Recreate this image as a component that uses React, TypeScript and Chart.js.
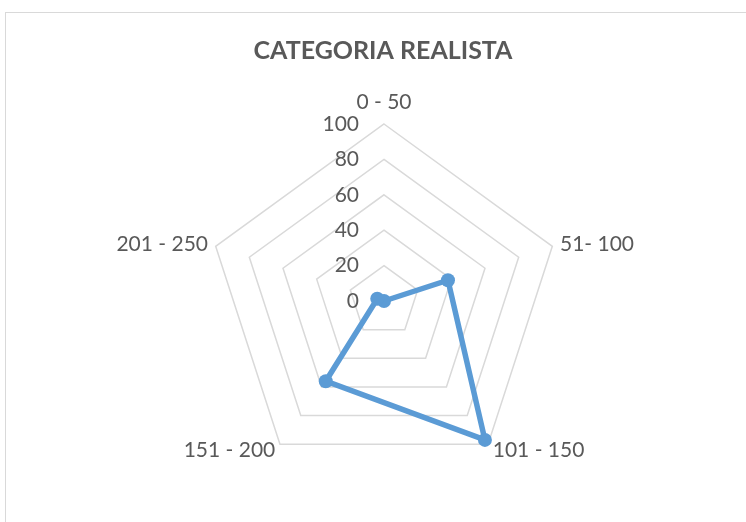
import React, { useEffect, useRef } from "react";
import { Chart, registerables } from "chart.js";

Chart.register(...registerables);

const TITLE = "CATEGORIA REALISTA";
const categories = ["0 - 50", "51- 100", "101 - 150", "151 - 200", "201 - 250"];
const values = [0, 38, 97, 56, 4];
const tickMin = 0;
const tickMax = 100;
const tickStep = 20;

const TEXT_COLOR = "#595959";
const LINE_COLOR = "#5b9bd5";

const labelPlugin = {
  id: "excelLabels",
  beforeDatasetsDraw(chart: any) {
    const ctx = chart.ctx;
    const scale = chart.scales.r;
    ctx.save();
    ctx.fillStyle = TEXT_COLOR;
    ctx.font = "bold 25px Lato";
    ctx.textAlign = "center";
    ctx.textBaseline = "middle";
    ctx.fillText(TITLE, 383, 51);

    ctx.font = "21px Lato";
    categories.forEach((lab, i) => {
      const isTop = i === 0;
      const p = scale.getPointPosition(i, scale.drawingArea + (isTop ? 22 : 8));
      const dx = p.x - scale.xCenter;
      ctx.textAlign = Math.abs(dx) < 2 ? "center" : dx > 0 ? "left" : "right";
      ctx.fillText(lab, p.x, p.y);
    });

    ctx.textAlign = "right";
    scale.ticks.forEach((t: any) => {
      const y = scale.yCenter - scale.getDistanceFromCenterForValue(t.value);
      ctx.fillText(String(t.value), scale.xCenter - 25, y);
    });
    ctx.restore();
  },
};

export default function App() {
  const ref = useRef<HTMLCanvasElement | null>(null);

  useEffect(() => {
    if (!ref.current) return;
    const chart = new Chart(ref.current, {
      type: "radar",
      data: {
        labels: categories,
        datasets: [
          {
            data: values,
            borderColor: LINE_COLOR,
            backgroundColor: LINE_COLOR,
            borderWidth: 5.5,
            pointRadius: 7,
            pointBackgroundColor: LINE_COLOR,
            pointBorderColor: LINE_COLOR,
            pointBorderWidth: 0,
            fill: false,
            tension: 0,
          },
        ],
      },
      options: {
        responsive: false,
        animation: false,
        layout: { padding: { left: 207, right: 185, top: 124, bottom: 44 } },
        plugins: {
          legend: { display: false },
          tooltip: { enabled: false },
          title: { display: false },
        },
        scales: {
          r: {
            min: tickMin,
            max: tickMax,
            beginAtZero: true,
            ticks: { stepSize: tickStep, display: false },
            pointLabels: { display: false },
            angleLines: { display: false },
            grid: { color: "#d9d9d9", lineWidth: 1.5, circular: false },
          },
        },
      },
      plugins: [labelPlugin],
    });
    return () => chart.destroy();
  }, []);

  return (
    <div
      style={{
        position: "fixed",
        left: 0,
        top: 0,
        width: 746,
        height: 522,
        overflow: "hidden",
        background: "#ffffff",
      }}
    >
      <div
        style={{
          position: "absolute",
          left: 5,
          top: 12,
          width: 800,
          height: 600,
          border: "1.5px solid #d9d9d9",
        }}
      />
      <canvas
        ref={ref}
        width={746}
        height={522}
        style={{ position: "absolute", left: 0, top: 0, width: 746, height: 522 }}
      />
    </div>
  );
}
